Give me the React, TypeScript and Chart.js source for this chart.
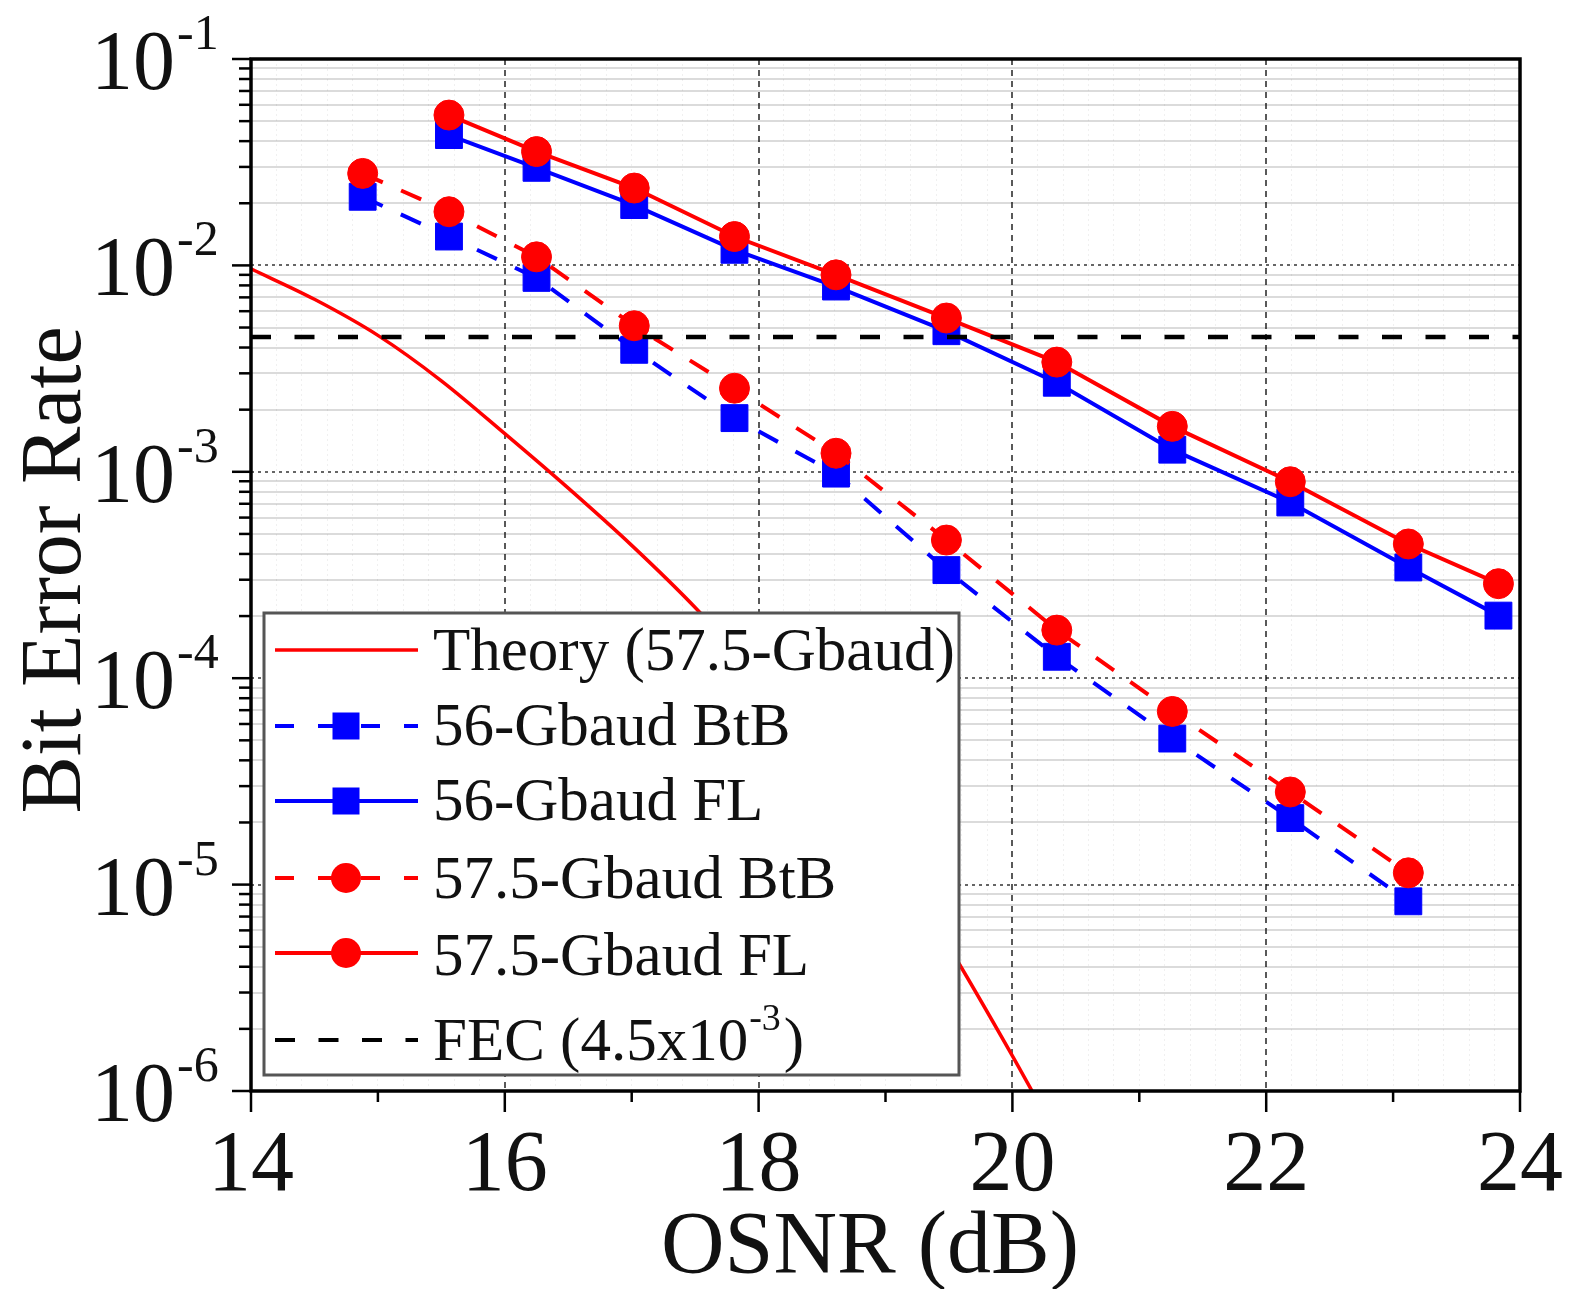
import React, { useEffect, useRef } from 'react';
import { Chart, registerables } from 'chart.js';

Chart.register(...registerables);

// OSNR (dB) sweep points
const osnrBtB = [14.88, 15.56, 16.25, 17.02, 17.81, 18.61, 19.48, 20.35, 21.26, 22.19, 23.12];
const osnrFL = [15.56, 16.25, 17.02, 17.81, 18.61, 19.48, 20.35, 21.26, 22.19, 23.12, 23.83];

// Measured bit error rates
const ber56BtB = [2.15e-2, 1.38e-2, 8.7e-3, 3.9e-3, 1.82e-3, 9.8e-4, 3.34e-4, 1.27e-4, 5.1e-5, 2.1e-5, 8.3e-6];
const ber56FL = [4.28e-2, 2.97e-2, 1.96e-2, 1.19e-2, 7.9e-3, 4.8e-3, 2.7e-3, 1.28e-3, 7.1e-4, 3.44e-4, 2.01e-4];
const ber575BtB = [2.79e-2, 1.82e-2, 1.1e-2, 5.1e-3, 2.54e-3, 1.23e-3, 4.67e-4, 1.71e-4, 6.9e-5, 2.81e-5, 1.14e-5];
const ber575FL = [5.35e-2, 3.56e-2, 2.37e-2, 1.38e-2, 9.0e-3, 5.56e-3, 3.4e-3, 1.66e-3, 8.95e-4, 4.47e-4, 2.87e-4];

// Theoretical curve (57.5 Gbaud)
const osnrTheory = [14, 14.5, 15, 15.5, 16, 16.5, 17, 17.5, 18, 18.5, 19, 19.5, 20, 20.2];
const berTheory = [9.62e-3, 6.85e-3, 4.58e-3, 2.76e-3, 1.53e-3, 8.33e-4, 4.4e-4, 2.2e-4, 1.01e-4, 4.17e-5, 1.53e-5, 5.0e-6, 1.48e-6, 8.9e-7];

// FEC threshold
const fecLimit = 4.5e-3;
const fecRange = [14, 24];

// Axis ticks
const xTickLabels = [14, 16, 18, 20, 22, 24];
const yDecades = [-1, -2, -3, -4, -5, -6];

const SERIF = '"Liberation Serif", "Times New Roman", serif';
const RED = '#ff0000';
const BLUE = '#0000ff';

const legendItems = [
  { label: 'Theory (57.5-Gbaud)', color: RED, dash: [] as number[], marker: '', width: 3.5 },
  { label: '56-Gbaud BtB', color: BLUE, dash: [19, 24], marker: 'rect', width: 4 },
  { label: '56-Gbaud FL', color: BLUE, dash: [] as number[], marker: 'rect', width: 4 },
  { label: '57.5-Gbaud BtB', color: RED, dash: [19, 24], marker: 'circle', width: 4 },
  { label: '57.5-Gbaud FL', color: RED, dash: [] as number[], marker: 'circle', width: 4 },
  { label: 'FEC (4.5x10', sup: '-3', tail: ')', color: '#000', dash: [20, 23.5], marker: '', width: 4 },
];

const zip = (xs: number[], ys: number[]) => xs.map((x, i) => ({ x, y: ys[i] }));

const isDecade = (v: number) => {
  const l = Math.log10(v);
  return Math.abs(l - Math.round(l)) < 1e-9;
};

const isMajorX = (v: number) => {
  const r = Math.round(v);
  return Math.abs(v - r) < 1e-6 && r % 2 === 0 && r > 14 && r < 24;
};

function drawMarker(ctx: CanvasRenderingContext2D, kind: string, x: number, y: number, color: string) {
  ctx.save();
  ctx.fillStyle = color;
  if (kind === 'circle') {
    ctx.beginPath();
    ctx.arc(x, y, 15, 0, Math.PI * 2);
    ctx.fill();
  } else if (kind === 'rect') {
    ctx.fillRect(x - 13.5, y - 13.5, 27, 27);
  }
  ctx.restore();
}

const overlayPlugin = {
  id: 'berOverlay',
  afterDraw(chart: any) {
    const { ctx, chartArea: a, scales } = chart;
    const xs = scales.x;
    const ys = scales.y;
    ctx.save();

    // plot frame
    ctx.strokeStyle = '#000';
    ctx.lineWidth = 3.5;
    ctx.setLineDash([]);
    ctx.strokeRect(a.left, a.top, a.right - a.left, a.bottom - a.top);

    // x tick marks (outside)
    ctx.lineWidth = 2.5;
    for (let v = 14; v <= 24; v++) {
      const px = xs.getPixelForValue(v);
      const len = v % 2 === 0 ? 21 : 11;
      ctx.beginPath();
      ctx.moveTo(px, a.bottom);
      ctx.lineTo(px, a.bottom + len);
      ctx.stroke();
    }
    // y tick marks (outside)
    for (let k = -6; k <= -1; k++) {
      for (let m = 1; m <= 9; m++) {
        if (k === -1 && m > 1) break;
        const py = ys.getPixelForValue(m * Math.pow(10, k));
        const len = m === 1 ? 19 : 12;
        ctx.beginPath();
        ctx.moveTo(a.left, py);
        ctx.lineTo(a.left - len, py);
        ctx.stroke();
      }
    }

    ctx.fillStyle = '#111';
    // x tick labels
    ctx.font = `86px ${SERIF}`;
    ctx.textAlign = 'center';
    ctx.textBaseline = 'alphabetic';
    xTickLabels.forEach((v) => {
      ctx.fillText(String(v), xs.getPixelForValue(v), 1190);
    });

    // y tick labels: 10 with superscript exponent
    yDecades.forEach((k) => {
      const py = ys.getPixelForValue(Math.pow(10, k));
      ctx.font = `84px ${SERIF}`;
      ctx.textAlign = 'right';
      ctx.fillText('10', 175, py + 30);
      ctx.font = `50px ${SERIF}`;
      ctx.textAlign = 'left';
      ctx.fillText(`-${Math.abs(k)}`, 177, py - 10);
    });

    // axis titles
    ctx.font = `88px ${SERIF}`;
    ctx.textAlign = 'center';
    ctx.fillText('OSNR (dB)', 870, 1272);
    ctx.save();
    ctx.translate(80, 570);
    ctx.rotate(-Math.PI / 2);
    ctx.font = `86px ${SERIF}`;
    ctx.fillText('Bit Error Rate', 0, 0);
    ctx.restore();

    // legend box
    const lx = 264, ly = 613, lw = 695, lh = 462;
    ctx.fillStyle = '#fff';
    ctx.fillRect(lx, ly, lw, lh);
    ctx.strokeStyle = '#555';
    ctx.lineWidth = 3;
    ctx.strokeRect(lx, ly, lw, lh);

    const lineYs = [650, 726, 801, 878, 953, 1040];
    const baseYs = [670, 745, 820, 898, 975, 1060];
    legendItems.forEach((it: any, i) => {
      const y = lineYs[i];
      ctx.strokeStyle = it.color;
      ctx.lineWidth = it.width;
      ctx.setLineDash(it.dash);
      ctx.beginPath();
      ctx.moveTo(275, y);
      ctx.lineTo(418, y);
      ctx.stroke();
      ctx.setLineDash([]);
      if (it.marker) drawMarker(ctx, it.marker, 346, y, it.color);

      ctx.fillStyle = '#111';
      ctx.textAlign = 'left';
      ctx.font = `61px ${SERIF}`;
      ctx.fillText(it.label, 433, baseYs[i]);
      if (it.sup) {
        const w = ctx.measureText(it.label).width;
        ctx.font = `38px ${SERIF}`;
        ctx.fillText(it.sup, 433 + w + 1, baseYs[i] - 30);
        const ws = ctx.measureText(it.sup).width;
        ctx.font = `61px ${SERIF}`;
        ctx.fillText(it.tail, 433 + w + ws + 4, baseYs[i]);
      }
    });

    ctx.restore();
  },
};

export default function App() {
  const canvasRef = useRef<HTMLCanvasElement | null>(null);

  useEffect(() => {
    if (!canvasRef.current) return;
    const chart = new Chart(canvasRef.current, {
      type: 'line',
      data: {
        datasets: [
          {
            label: 'FEC (4.5x10-3)',
            data: zip(fecRange, [fecLimit, fecLimit]),
            borderColor: '#000',
            borderWidth: 4.5,
            borderDash: [20, 23.5],
            pointRadius: 0,
            order: -1,
          },
          {
            label: '57.5-Gbaud FL',
            data: zip(osnrFL, ber575FL),
            borderColor: RED,
            backgroundColor: RED,
            borderWidth: 4,
            pointStyle: 'circle',
            pointRadius: 15,
            pointBorderWidth: 1,
            pointBackgroundColor: RED,
            pointBorderColor: RED,
            order: 0,
          },
          {
            label: '57.5-Gbaud BtB',
            data: zip(osnrBtB, ber575BtB),
            borderColor: RED,
            backgroundColor: RED,
            borderWidth: 4,
            borderDash: [22, 20],
            pointStyle: 'circle',
            pointRadius: 15,
            pointBorderWidth: 1,
            pointBackgroundColor: RED,
            pointBorderColor: RED,
            order: 0,
          },
          {
            label: '56-Gbaud FL',
            data: zip(osnrFL, ber56FL),
            borderColor: BLUE,
            backgroundColor: BLUE,
            borderWidth: 4,
            pointStyle: 'rect',
            pointRadius: 19,
            pointBorderWidth: 1,
            pointBackgroundColor: BLUE,
            pointBorderColor: BLUE,
            order: 1,
          },
          {
            label: '56-Gbaud BtB',
            data: zip(osnrBtB, ber56BtB),
            borderColor: BLUE,
            backgroundColor: BLUE,
            borderWidth: 4,
            borderDash: [22, 20],
            pointStyle: 'rect',
            pointRadius: 19,
            pointBorderWidth: 1,
            pointBackgroundColor: BLUE,
            pointBorderColor: BLUE,
            order: 1,
          },
          {
            label: 'Theory (57.5-Gbaud)',
            data: zip(osnrTheory, berTheory),
            borderColor: RED,
            borderWidth: 3.5,
            pointRadius: 0,
            cubicInterpolationMode: 'monotone',
            order: 2,
          },
        ],
      },
      options: {
        responsive: false,
        maintainAspectRatio: false,
        animation: false,
        devicePixelRatio: 1,
        layout: { padding: { top: 59, right: 53, left: 0, bottom: 0 } },
        plugins: {
          legend: { display: false },
          tooltip: { enabled: false },
        },
        scales: {
          x: {
            type: 'linear',
            min: 14,
            max: 24,
            afterBuildTicks: (scale: any) => {
              const t = [];
              for (let i = 0; i <= 50; i++) t.push({ value: Math.round((14 + i * 0.2) * 10) / 10 });
              scale.ticks = t;
            },
            afterFit: (scale: any) => {
              scale.height = 198;
            },
            ticks: { display: false },
            grid: {
              drawTicks: false,
              color: (c: any) => {
                const v = c.tick ? c.tick.value : 0;
                if (v <= 14 || v >= 24) return 'rgba(0,0,0,0)';
                return isMajorX(v) ? 'rgba(0,0,0,0.65)' : 'rgba(0,0,0,0.06)';
              },
              lineWidth: (c: any) => (c.tick && isMajorX(c.tick.value) ? 2 : 1),
            },
            border: {
              display: false,
              dash: (c: any) => (c.tick && isMajorX(c.tick.value) ? [6, 5] : [2, 3]),
            },
          },
          y: {
            type: 'logarithmic',
            min: 1e-6,
            max: 1e-1,
            afterBuildTicks: (scale: any) => {
              const t = [];
              for (let k = -6; k <= -2; k++) {
                for (let m = 1; m <= 9; m++) t.push({ value: Number((m * Math.pow(10, k)).toPrecision(6)) });
              }
              t.push({ value: 1e-1 });
              scale.ticks = t;
            },
            afterFit: (scale: any) => {
              scale.width = 251;
            },
            ticks: { display: false },
            grid: {
              drawTicks: false,
              color: (c: any) => {
                const v = c.tick ? c.tick.value : 1;
                if (v <= 1e-6 * 1.0001 || v >= 0.1 * 0.9999) return 'rgba(0,0,0,0)';
                return isDecade(v) ? 'rgba(0,0,0,0.6)' : 'rgba(0,0,0,0.14)';
              },
              lineWidth: 2,
            },
            border: {
              display: false,
              dash: (c: any) => (c.tick && isDecade(c.tick.value) ? [3, 4] : []),
            },
          },
        },
      },
      plugins: [overlayPlugin],
    } as any);
    return () => chart.destroy();
  }, []);

  return (
    <div style={{ position: 'absolute', left: 0, top: 0, width: 1573, height: 1289, background: '#fff' }}>
      <canvas ref={canvasRef} width={1573} height={1289} style={{ display: 'block' }} />
    </div>
  );
}
